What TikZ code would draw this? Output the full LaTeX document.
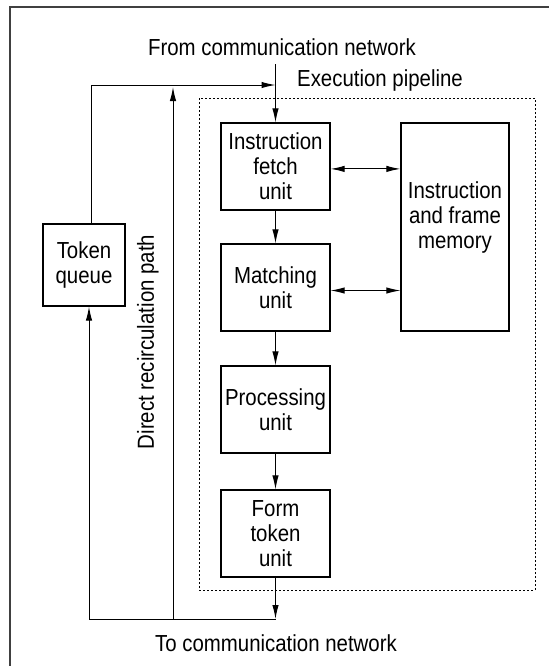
\documentclass[tikz,border=0pt]{standalone}
\usepackage{fontspec}
\setmainfont[FakeStretch=0.88]{Liberation Sans}
\usetikzlibrary{arrows.meta}

\begin{document}
\begin{tikzpicture}[x=0.5pt,y=-0.5pt,
  unit/.style={draw,line width=0.6pt,minimum width=54.5pt,minimum height=43.5pt,inner sep=0pt,align=center,font=\fontsize{11.6}{12.5}\selectfont},
  lbl/.style={font=\fontsize{11.6}{13}\selectfont,inner sep=0pt},
  wire/.style={line width=0.5pt},
  flow/.style={wire,-{Latex[length=7pt,width=3.2pt]}},
  both/.style={wire,{Latex[length=7pt,width=3.2pt]}-{Latex[length=7pt,width=3.2pt]}}]
\useasboundingbox (0,0) rectangle (549,666);
\draw[black!75,line width=0.6pt] (10,666) -- (10,7) -- (549,7);
\draw[dash pattern=on 1pt off 1pt,line width=0.5pt] (199,98) rectangle (535,590);

\node[unit] (fetch) at (275.5,166.5) {Instruction\\fetch\\unit};
\node[unit] (match) at (275.5,287.5) {Matching\\unit};
\node[unit] (proc) at (275.5,409.5) {Processing\\unit};
\node[unit] (form) at (275.5,533.5) {Form\\token\\unit};
\node[unit,minimum width=54pt,minimum height=104pt,text depth=12pt] (memory) at (455,227) {Instruction\\and frame\\memory};
\node[unit,minimum width=41pt,minimum height=41pt] (queue) at (84,265) {Token\\queue};

\node[lbl] (fromnet) at (282,47) {From communication network};
\node[lbl] (pipe) at (380,80) {Execution pipeline};
\node[lbl] (tonet) at (276,643) {To communication network};
\node[lbl,rotate=90] (recirc) at (148,342) {Direct recirculation path};

\coordinate (in) at (275.5,64);
\coordinate (qtop) at (91,85);
\coordinate (join) at (275.5,85);
\coordinate (rbot) at (173,619);
\coordinate (rtop) at (173,87);
\coordinate (qbot) at (89,619);
\coordinate (out) at (275.5,619);

\draw[flow] (in) -- (fetch.north);
\draw[flow] (queue.north -| qtop) -- (qtop) -- (join);
\draw[flow] (rbot) -- (rtop);
\draw[wire] (qbot) -- (out);
\draw[flow] (qbot) -- (queue.south -| qbot);
\draw[flow] (form.south) -- (out);
\draw[flow] (fetch) -- (match);
\draw[flow] (match) -- (proc);
\draw[flow] (proc) -- (form);
\draw[both] ([yshift=-1.2pt]fetch.east) -- ([yshift=-1.2pt]fetch.east -| memory.west);
\draw[both] ([yshift=-1.5pt]match.east) -- ([yshift=-1.5pt]match.east -| memory.west);
\end{tikzpicture}
\end{document}
